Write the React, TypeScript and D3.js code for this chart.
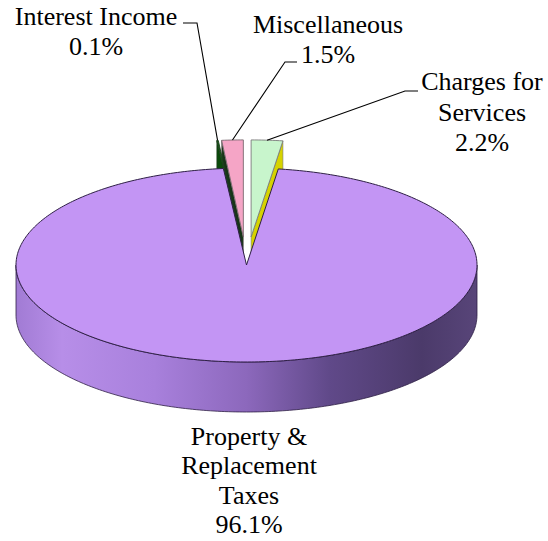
import React from "react";
import * as d3 from "d3";

// ---- data (pie order, clockwise from 12 o'clock) ----
const categories = ["Charges for Services", "Property & Replacement Taxes", "Interest Income", "Miscellaneous"];
const values = [2.2, 96.1, 0.1, 1.5];
const labelNames = [["Charges for", "Services"], ["Property &", "Replacement", "Taxes"], ["Interest Income"], ["Miscellaneous"]];

// ---- layout / style ----
const W = 548, H = 541;
const cx = 246.5, cy = 265, rx = 230.5, ry = 97, depth = 50;
const explode = [0.29, 0, 0.29, 0.29];
const topColors = ["#C8F5CC", "#C395F4", "#0B6B0B", "#F5A5C6"];
const cutColors = ["#D6D300", "#6E4F9C", "#0A4A0A", "#173517"];
const strokeColors = ["#7A7A7A", "#2E1F45", "#1E3A1E", "#7A6A70"];
const labelLayout = [
  { x: 482, y: 90, lh: 30.5, leader: [[418, 91], [405, 91]] },
  { x: 249, y: 445, lh: 29.4, leader: null },
  { x: 96, y: 25, lh: 30, leader: [[183, 23], [197, 23]] },
  { x: 328, y: 33, lh: 30, leader: [[297, 62], [285, 62]] },
];

type Pt = [number, number];

export default function App() {
  const pie = d3.pie<number>().sort(null).value((d) => d);
  const arcs = pie(values);
  const line = d3.line<Pt>();
  const closed = d3.line<Pt>().curve(d3.curveLinearClosed);

  const proj = (a: number, r: number, z: number, ox: number, oy: number): Pt => [
    cx + ox + rx * r * Math.sin(a),
    cy + oy - ry * r * Math.cos(a) + z * depth,
  ];

  const slices = arcs.map((arc, i) => {
    const mid = (arc.startAngle + arc.endAngle) / 2;
    const e = explode[i];
    const ox = rx * e * Math.sin(mid);
    const oy = -ry * e * Math.cos(mid);
    const n = Math.max(4, Math.ceil(((arc.endAngle - arc.startAngle) / (2 * Math.PI)) * 400));
    const angs = d3.range(n + 1).map((k) => arc.startAngle + ((arc.endAngle - arc.startAngle) * k) / n);
    const top: Pt[] = [proj(0, 0, 0, ox, oy), ...angs.map((a) => proj(a, 1, 0, ox, oy))];
    const cuts: Pt[][] = [];
    const edges: [number, number][] = [
      [arc.startAngle, arc.startAngle - Math.PI / 2],
      [arc.endAngle, arc.endAngle + Math.PI / 2],
    ];
    edges.forEach(([a, nrm]) => {
      if (Math.cos(nrm) < -1e-6) {
        cuts.push([proj(a, 0, 0, ox, oy), proj(a, 1, 0, ox, oy), proj(a, 1, 1, ox, oy), proj(a, 0, 1, ox, oy)]);
      }
    });
    const w0 = Math.max(arc.startAngle, Math.PI / 2);
    const w1 = Math.min(arc.endAngle, (3 * Math.PI) / 2);
    let wall: Pt[] | null = null;
    if (w1 > w0) {
      const m = 200;
      const wa = d3.range(m + 1).map((k) => w0 + ((w1 - w0) * k) / m);
      wall = [...wa.map((a) => proj(a, 1, 0, ox, oy)), ...wa.slice().reverse().map((a) => proj(a, 1, 1, ox, oy))];
    }
    const anchor = proj(mid, 1, 0, ox, oy);
    return { i, top, cuts, wall, anchor, e };
  });

  const renderSlice = (s: (typeof slices)[number]) => (
    <g key={s.i}>
      {s.cuts.map((c, k) => (
        <path key={"c" + k} d={closed(c) || ""} fill={cutColors[s.i]} stroke={strokeColors[s.i]} strokeWidth={0.6} />
      ))}
      {s.wall && <path d={closed(s.wall) || ""} fill="url(#sideGrad)" stroke="#2E1F45" strokeWidth={0.8} />}
      <path d={closed(s.top) || ""} fill={topColors[s.i]} stroke={strokeColors[s.i]} strokeWidth={s.i === 1 ? 1 : 0.9} />
    </g>
  );

  const misc = slices[3];
  const interest = slices[2];

  const textRuns: { key: string; x: number; y: number; t: string }[] = [];
  slices.forEach((s) => {
    const lay = labelLayout[s.i];
    const lines = [...labelNames[s.i], `${values[s.i].toFixed(1)}%`];
    lines.forEach((t, k) => textRuns.push({ key: `t${s.i}-${k}`, x: lay.x, y: lay.y + k * lay.lh, t }));
  });

  return (
    <svg width={W} height={H} style={{ position: "fixed", left: 0, top: 0, background: "#fff" }}>
      <defs>
        <linearGradient id="sideGrad" gradientUnits="userSpaceOnUse" x1={cx - rx} x2={cx + rx} y1={0} y2={0}>
          <stop offset="0%" stopColor="#A17BD4" />
          <stop offset="10%" stopColor="#B78EE8" />
          <stop offset="30%" stopColor="#A880DC" />
          <stop offset="50%" stopColor="#8C68BC" />
          <stop offset="68%" stopColor="#604989" />
          <stop offset="88%" stopColor="#4B3A6A" />
          <stop offset="100%" stopColor="#584579" />
        </linearGradient>
      </defs>
      <rect width={W} height={H} fill="#fff" />
      {misc.cuts.map((c, k) => (
        <path key={"mc" + k} d={closed(c) || ""} fill={cutColors[3]} stroke={strokeColors[3]} strokeWidth={0.6} />
      ))}
      {renderSlice(interest)}
      <path d={closed(misc.top) || ""} fill={topColors[3]} stroke={strokeColors[3]} strokeWidth={0.9} />
      {renderSlice(slices[0])}
      {renderSlice(slices[1])}
      {slices.map((s) => {
        const L = labelLayout[s.i].leader;
        if (!L) return null;
        const pts: Pt[] = [...(L as Pt[]), s.anchor];
        return <path key={"l" + s.i} d={line(pts) || ""} fill="none" stroke="#000" strokeWidth={1.1} />;
      })}
      {textRuns.map((r) => (
        <text key={r.key} x={r.x} y={r.y} textAnchor="middle" style={{ fontFamily: `"Liberation Serif"`, fontSize: "26px" }}>
          {r.t}
        </text>
      ))}
    </svg>
  );
}
